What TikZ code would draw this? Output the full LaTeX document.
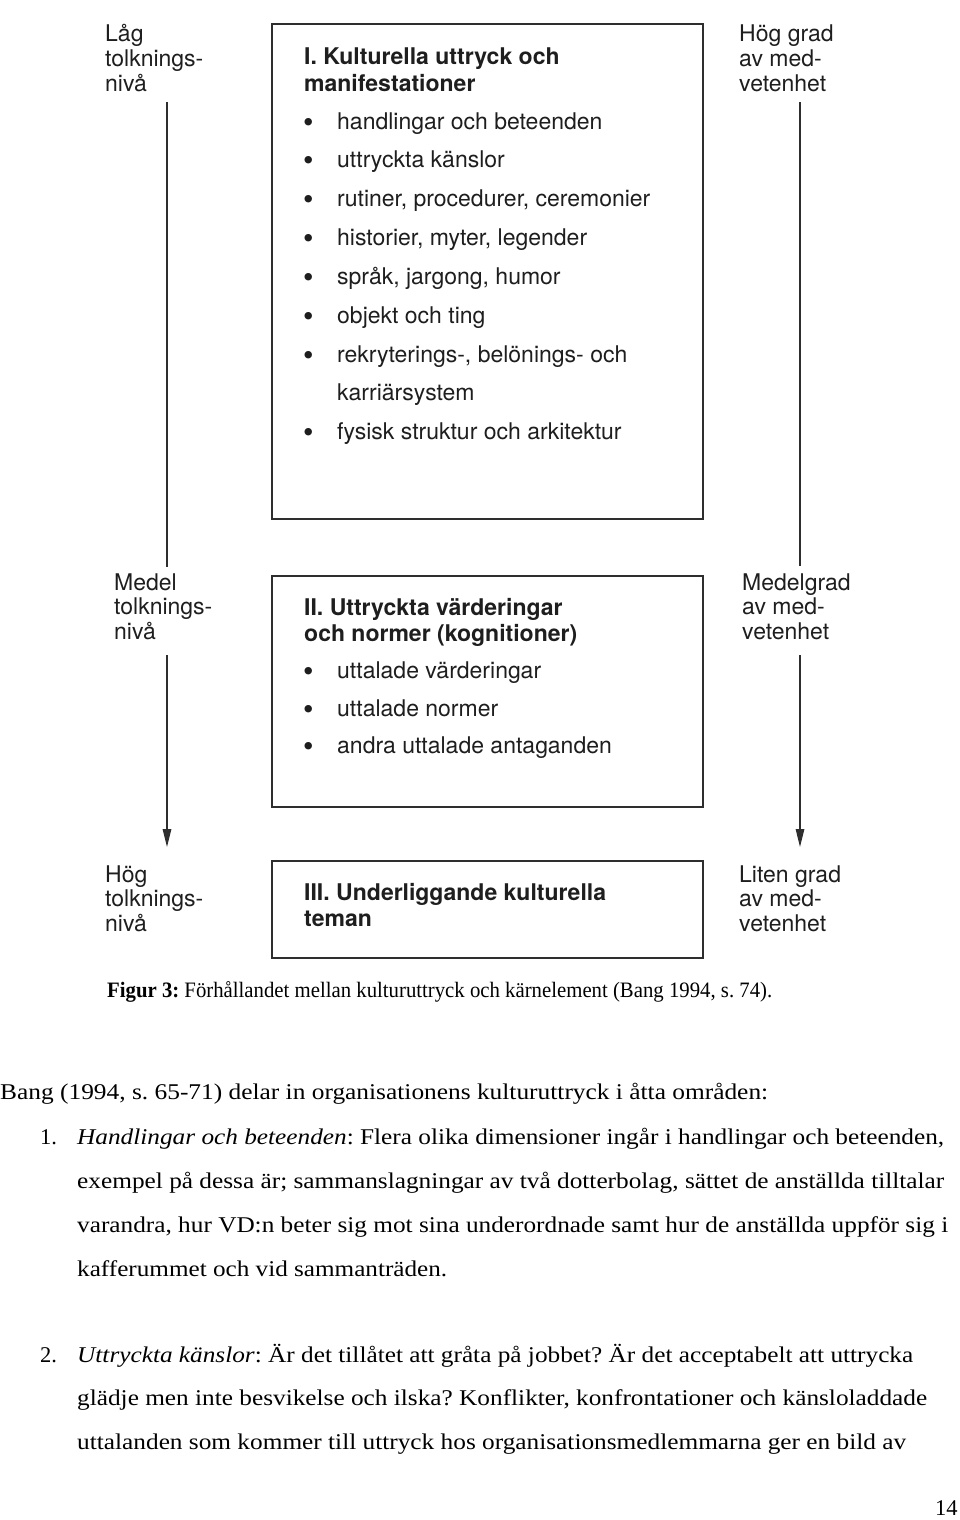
\documentclass[tikz,border=0pt]{standalone}
\usepackage{fontspec}
\setmainfont{Liberation Serif}
\newfontfamily\hv{TeX Gyre Heros}
\usetikzlibrary{arrows.meta}
\definecolor{ink}{HTML}{1E1E1E}
\definecolor{framec}{HTML}{2E2E2E}
\frenchspacing
\newlength\fitlen
\newcommand\fitto[2]{\settowidth\fitlen{#2}\pgfmathsetmacro\fitratio{#1/\fitlen}\scalebox{\fitratio}[1]{#2}}
\tikzset{
  framebox/.style={draw=framec, line width=2pt, minimum width=431pt, anchor=north west, inner sep=0},
  lbl/.style={anchor=base west, inner sep=0, text=ink, font=\hv\fontsize{23}{24.5}\selectfont},
  ttl/.style={anchor=base west, inner sep=0, text=ink, font=\hv\bfseries\fontsize{23}{26}\selectfont},
  itm/.style={anchor=base west, inner sep=0, text=ink, font=\hv\fontsize{23}{26}\selectfont},
  conn/.style={draw=framec, line width=1.3pt},
  tip/.style={-{Triangle[length=18pt,width=8.5pt]}},
  body/.style={anchor=base west, inner sep=0, text=black, font=\fontsize{22.5}{26}\selectfont},
  capt/.style={anchor=base west, inner sep=0, text=black, font=\fontsize{22}{24}\selectfont},
}
\newcommand\bul{\makebox[33pt][l]{\hspace{-1pt}\raisebox{-3pt}{\scalebox{1.3}{\textbullet}}}}
\begin{document}
\begin{tikzpicture}[x=1pt,y=-1pt]
\useasboundingbox[fill=white] (0,0) rectangle (960,1520);

% boxes
\node[framebox, minimum height=495pt] (boxI) at (271,23) {};
\node[framebox, minimum height=231pt] (boxII) at (271,575) {};
\node[framebox, minimum height=97pt] (boxIII) at (271,860) {};

% box I content
\node[ttl] (tI) at (304,65) {\parbox[t]{380pt}{I. Kulturella uttryck och\\manifestationer}};
\node[itm] (i1) at (304,129) {\bul handlingar och beteenden};
\node[itm] (i2) at (304,167) {\bul uttryckta känslor};
\node[itm] (i3) at (304,206) {\bul rutiner, procedurer, ceremonier};
\node[itm] (i4) at (304,245) {\bul historier, myter, legender};
\node[itm] (i5) at (304,284) {\bul språk, jargong, humor};
\node[itm] (i6) at (304,323) {\bul objekt och ting};
\node[itm] (i7) at (304,362) {\bul rekryterings-, belönings- och};
\node[itm] (i7b) at (337,400) {karriärsystem};
\node[itm] (i8) at (304,439) {\bul fysisk struktur och arkitektur};

% box II content
\node[ttl] (tII) at (304,615) {\parbox[t]{380pt}{II. Uttryckta värderingar\\och normer (kognitioner)}};
\node[itm] (j1) at (304,678) {\bul uttalade värderingar};
\node[itm] (j2) at (304,716) {\bul uttalade normer};
\node[itm] (j3) at (304,753) {\bul andra uttalade antaganden};

% box III content
\node[ttl] (tIII) at (304,900) {\parbox[t]{380pt}{III. Underliggande kulturella\\teman}};

% side labels
\node[lbl] (Llow) at (105,42) {\parbox[t]{150pt}{Låg\\tolknings-\\nivå}};
\node[lbl] (Lmed) at (114,590) {\parbox[t]{150pt}{Medel\\tolknings-\\nivå}};
\node[lbl] (Lhigh) at (105,882) {\parbox[t]{150pt}{Hög\\tolknings-\\nivå}};
\node[lbl] (Rhigh) at (739,42) {\parbox[t]{150pt}{Hög grad\\av med-\\vetenhet}};
\node[lbl] (Rmed) at (742,590) {\parbox[t]{150pt}{Medelgrad\\av med-\\vetenhet}};
\node[lbl] (Rlow) at (739,882) {\parbox[t]{150pt}{Liten grad\\av med-\\vetenhet}};

% arrow coordinates
\coordinate (la) at (167,102);
\coordinate (lb) at (167,567);
\coordinate (lc) at (167,655);
\coordinate (ld) at (167,847);
\coordinate (ra) at (800,102);
\coordinate (rb) at (800,566);
\coordinate (rc) at (800,655);
\coordinate (rd) at (800,847);
\draw[conn] (la) -- (lb);
\draw[conn,tip] (lc) -- (ld);
\draw[conn] (ra) -- (rb);
\draw[conn,tip] (rc) -- (rd);

% caption
\node[capt] (cap) at (107,997) {\fitto{665}{\textbf{Figur 3:} Förhållandet mellan kulturuttryck och kärnelement (Bang 1994, s. 74).}};

% body text
\node[body] (b0) at (0,1099) {\fitto{768}{Bang (1994, s. 65-71) delar in organisationens kulturuttryck i åtta områden:}};
\node[body] (n1) at (40,1144) {1.};
\node[body] (b1) at (77,1144) {\fitto{867}{\textit{Handlingar och beteenden}: Flera olika dimensioner ingår i handlingar och beteenden,}};
\node[body] (b2) at (77,1188) {\fitto{867}{exempel på dessa är; sammanslagningar av två dotterbolag, sättet de anställda tilltalar}};
\node[body] (b3) at (77,1232) {\fitto{871}{varandra, hur VD:n beter sig mot sina underordnade samt hur de anställda uppför sig i}};
\node[body] (b4) at (77,1276) {\fitto{370}{kafferummet och vid sammanträden.}};
\node[body] (n2) at (40,1362) {2.};
\node[body] (b5) at (77,1362) {\fitto{836}{\textit{Uttryckta känslor}: Är det tillåtet att gråta på jobbet? Är det acceptabelt att uttrycka}};
\node[body] (b6) at (77,1405) {\fitto{850}{glädje men inte besvikelse och ilska? Konflikter, konfrontationer och känsloladdade}};
\node[body] (b7) at (77,1449) {\fitto{829}{uttalanden som kommer till uttryck hos organisationsmedlemmarna ger en bild av}};
\node[body] (pg) at (935,1515) {14};
\end{tikzpicture}
\end{document}
